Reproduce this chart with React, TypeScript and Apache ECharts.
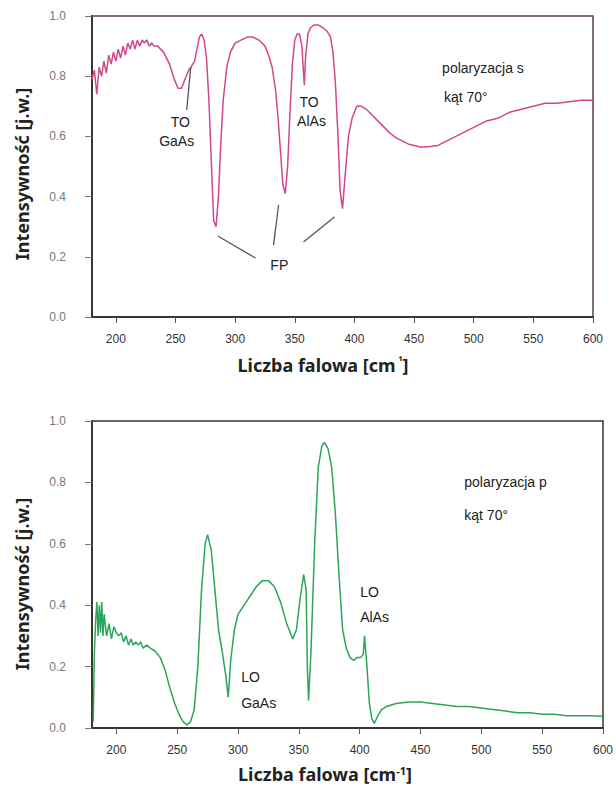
import React, { useEffect, useRef } from "react";
import * as echarts from "echarts";

// Top panel: s polarization (wavenumber, intensity)
const sWave = [180,182,184,186,188,190,192,194,196,198,200,202,204,206,208,210,212,214,216,218,220,222,224,226,228,230,232,235,240,245,249,252,255,258,261,263,266,268,270,272,274,276,278,280,282,284,286,288,290,293,296,300,305,310,315,320,325,328,331,334,336,338,340,342,344,346,348,350,352,354,356,357,358,359,361,363,366,370,374,377,380,382,384,386,388,390,392,395,398,402,406,410,415,420,425,430,435,440,445,450,455,460,465,470,475,480,485,490,495,500,510,520,530,540,550,560,570,580,590,600];
const sInt  = [0.79,0.82,0.74,0.83,0.80,0.85,0.81,0.87,0.84,0.88,0.85,0.89,0.86,0.90,0.87,0.91,0.89,0.92,0.89,0.92,0.90,0.92,0.91,0.92,0.90,0.91,0.90,0.90,0.88,0.84,0.79,0.76,0.76,0.79,0.82,0.83,0.85,0.89,0.93,0.94,0.92,0.86,0.72,0.52,0.32,0.30,0.40,0.58,0.72,0.83,0.88,0.91,0.92,0.93,0.93,0.92,0.90,0.87,0.83,0.75,0.66,0.55,0.44,0.41,0.50,0.68,0.84,0.92,0.94,0.94,0.90,0.83,0.77,0.86,0.94,0.96,0.97,0.97,0.96,0.95,0.93,0.88,0.78,0.62,0.42,0.36,0.46,0.60,0.66,0.70,0.70,0.69,0.67,0.65,0.63,0.61,0.595,0.585,0.575,0.57,0.565,0.565,0.567,0.57,0.58,0.59,0.60,0.61,0.62,0.63,0.65,0.66,0.68,0.69,0.70,0.71,0.71,0.715,0.72,0.72];

// Bottom panel: p polarization
const pWave = [181,182,183,184,185,186,187,188,189,190,192,194,196,198,200,202,204,206,208,210,212,214,216,218,220,222,225,228,232,236,240,244,248,252,255,258,261,264,267,270,273,275,278,281,284,287,290,292,294,297,300,305,310,315,320,325,330,335,340,345,348,351,354,356,357,358,360,363,366,369,371,374,377,380,383,386,389,392,395,398,401,403,404,406,408,410,412,415,418,422,430,440,450,460,470,480,490,500,510,520,530,540,550,560,570,580,590,600];
const pInt  = [0.02,0.25,0.35,0.41,0.30,0.40,0.31,0.41,0.30,0.37,0.30,0.34,0.29,0.33,0.31,0.30,0.31,0.28,0.30,0.27,0.29,0.27,0.28,0.27,0.28,0.26,0.27,0.26,0.25,0.23,0.19,0.13,0.08,0.04,0.02,0.01,0.02,0.06,0.20,0.45,0.60,0.63,0.58,0.45,0.32,0.25,0.17,0.10,0.22,0.32,0.37,0.40,0.43,0.46,0.48,0.48,0.46,0.41,0.34,0.29,0.32,0.42,0.50,0.45,0.20,0.09,0.25,0.60,0.85,0.92,0.93,0.91,0.85,0.70,0.50,0.32,0.26,0.23,0.22,0.23,0.23,0.24,0.30,0.20,0.08,0.03,0.015,0.04,0.06,0.07,0.08,0.085,0.085,0.08,0.075,0.07,0.07,0.065,0.06,0.055,0.05,0.05,0.045,0.045,0.04,0.04,0.04,0.038];

const xTicks = [200, 250, 300, 350, 400, 450, 500, 550, 600];

// annotations in data coordinates: [x, y, text, align]
const topTexts: [number, number, string, string][] = [
  [254, 0.648, "TO", "center"],
  [251, 0.585, "GaAs", "center"],
  [362, 0.715, "TO", "center"],
  [364, 0.650, "AlAs", "center"],
  [337, 0.173, "FP", "center"],
  [473.5, 0.827, "polaryzacja s", "left"],
  [475, 0.731, "kąt 70°", "left"],
];
const topLines: [number, number, number, number][] = [
  [259.4, 0.688, 262.8, 0.831],
  [285.4, 0.269, 317.1, 0.196],
  [336.4, 0.372, 332.2, 0.239],
  [383.2, 0.332, 357.3, 0.249],
];
const bottomTexts: [number, number, string, string][] = [
  [486, 0.80, "polaryzacja p", "left"],
  [486, 0.694, "kąt 70°", "left"],
  [302.6, 0.166, "LO", "left"],
  [302.6, 0.081, "GaAs", "left"],
  [400.4, 0.443, "LO", "left"],
  [400.4, 0.362, "AlAs", "left"],
];

const axisFont = "Liberation Sans, Arial, sans-serif";
const titleFont = "Noto Sans, sans-serif";

function xAxis(gridIndex: number) {
  return {
    type: "value",
    gridIndex,
    min: 180,
    max: 600,
    axisLine: { show: true, lineStyle: { color: "#3a3530", width: 2 } },
    axisTick: { show: true, customValues: xTicks, length: 6, lineStyle: { color: "#555" } },
    axisLabel: { customValues: xTicks, margin: 16, fontSize: 12, color: "#333", fontFamily: axisFont },
    splitLine: { show: false },
  };
}

function yAxis(gridIndex: number) {
  return {
    type: "value",
    gridIndex,
    min: 0,
    max: 1,
    interval: 0.2,
    axisLine: { show: true, lineStyle: { color: "#3a3530", width: 2 } },
    axisTick: { show: true, length: 7, lineStyle: { color: "#777" } },
    axisLabel: { margin: 26, fontSize: 12, color: "#777", fontFamily: axisFont, formatter: (v: number) => v.toFixed(1) },
    splitLine: { show: false },
  };
}

const titleStyle = { fill: "#222", fontFamily: titleFont, fontWeight: "bold", fontSize: 18, align: "center", verticalAlign: "middle" };
const supRich = { sup: { fontSize: 11, fontWeight: "bold", fill: "#222", fontFamily: titleFont, verticalAlign: "top", padding: [0, 0, 8, 0] } };

export default function App() {
  const ref = useRef<HTMLDivElement>(null);
  useEffect(() => {
    if (!ref.current) return;
    const chart = echarts.init(ref.current, null, { renderer: "svg" });
    chart.setOption({
      animation: false,
      backgroundColor: "#fff",
      grid: [
        { left: 92, top: 16, width: 501, height: 301, show: true, borderColor: "#5a4048", borderWidth: 1.5, backgroundColor: "transparent" },
        { left: 92, top: 421, width: 515, height: 307, show: true, borderColor: "#3a3530", borderWidth: 1.5, backgroundColor: "transparent" },
      ],
      xAxis: [xAxis(0), xAxis(1)],
      yAxis: [yAxis(0), yAxis(1)],
      series: [
        {
          type: "line", xAxisIndex: 0, yAxisIndex: 0, showSymbol: false,
          data: sWave.map((x, i) => [x, sInt[i]]),
          lineStyle: { color: "#d2468c", width: 1.5 },
          markLine: {
            silent: true, symbol: "none", label: { show: false },
            lineStyle: { color: "#555", width: 1.3, type: "solid" },
            data: topLines.map(([a, b, c, d]) => [{ coord: [a, b] }, { coord: [c, d] }]),
          },
        },
        {
          type: "line", xAxisIndex: 1, yAxisIndex: 1, showSymbol: false,
          data: pWave.map((x, i) => [x, pInt[i]]),
          lineStyle: { color: "#2aa55a", width: 1.5 },
        },
      ],
    });
    const mk = (list: [number, number, string, string][], gi: number) =>
      list.map(([x, y, t, al]) => {
        const p = chart.convertToPixel({ gridIndex: gi }, [x, y]) as number[];
        return {
          type: "text", x: p[0], y: p[1],
          style: { text: t, fill: "#222", fontSize: 14, fontFamily: axisFont, align: al, verticalAlign: "middle" },
          silent: true,
        };
      });
    const titles = [
      { type: "text", x: 323, y: 365, silent: true, style: { ...titleStyle, text: "Liczba falowa [cm{sup| ¹}]", rich: supRich } },
      { type: "text", x: 325, y: 774, silent: true, style: { ...titleStyle, text: "Liczba falowa [cm{sup|-1}]", rich: supRich } },
      { type: "text", x: 22, y: 174, rotation: Math.PI / 2, silent: true, style: { ...titleStyle, text: "Intensywność [j.w.]" } },
      { type: "text", x: 22, y: 584, rotation: Math.PI / 2, silent: true, style: { ...titleStyle, text: "Intensywność [j.w.]" } },
    ];
    chart.setOption({ graphic: [...titles, ...mk(topTexts, 0), ...mk(bottomTexts, 1)] });
    return () => chart.dispose();
  }, []);
  return <div ref={ref} style={{ position: "fixed", left: 0, top: 0, width: 616, height: 787 }} />;
}
